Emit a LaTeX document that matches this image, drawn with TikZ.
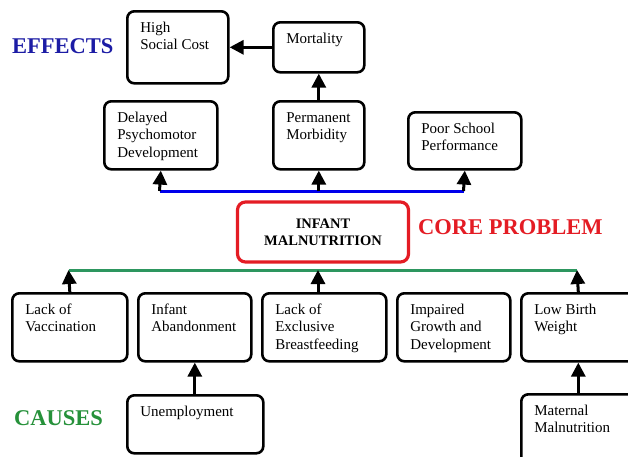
\documentclass[tikz,border=0pt]{standalone}
\usepackage{fontspec}
\setmainfont{Liberation Serif}
\usetikzlibrary{arrows.meta}
\definecolor{effblue}{RGB}{28,28,165}
\definecolor{lineblue}{RGB}{0,0,235}
\definecolor{corered}{RGB}{228,28,36}
\definecolor{causegreen}{RGB}{38,145,58}
\definecolor{linegreen}{RGB}{45,150,95}
\tikzset{
  cbox/.style={draw=black, line width=2.6pt, rounded corners=7pt, anchor=north west, inner sep=0pt, fill=white},
  arr/.style={line width=3pt, -{Triangle[width=14pt,length=14pt]}},
  bline/.style={draw=lineblue, line width=3pt},
  gline/.style={draw=linegreen, line width=3pt},
  head/.style={font=\fontsize{22.5}{27}\selectfont\bfseries, inner sep=0pt, anchor=base west},
  corebox/.style={draw=corered, line width=3.2pt, rounded corners=8pt, minimum width=171pt, minimum height=60pt, align=center, inner sep=0pt, font=\fontsize{14.5}{17}\selectfont\bfseries}
}
\newcommand\cbx[6]{\node[cbox] (#1) at (#2,#3) {\parbox[t][#5pt][t]{#4pt}{\raggedright\leftskip=13pt\fontsize{15}{17.5}\selectfont\rule{0pt}{21pt}#6}};}
\begin{document}
\begin{tikzpicture}[x=1pt,y=-1pt]
\useasboundingbox (0,0) rectangle (628,456);
\fill[white] (0,0) rectangle (628,456);
\clip (0,0) rectangle (628,456);
% effects
\node[head, text=effblue] (eff) at (12,53) {EFFECTS};
\cbx{hsc}{126}{10}{101}{72}{High\\Social Cost}
\cbx{mo}{272}{21}{91}{50}{Mortality}
\cbx{dp}{103}{100}{113}{68}{Delayed\\Psychomotor\\Development}
\cbx{pm}{272}{100}{91}{68}{Permanent\\Morbidity}
\cbx{ps}{407}{111}{113}{57}{Poor School\\Performance}
% core
\node[corebox] (im) at (323,232) {INFANT\\MALNUTRITION};
\node[head, text=corered] (core) at (418,234) {CORE PROBLEM};
% causes
\cbx{lv}{11}{292}{115}{68}{Lack of\\Vaccination}
\cbx{ia}{137}{292}{113}{68}{Infant\\Abandonment}
\cbx{le}{261}{292}{124}{68}{Lack of\\Exclusive\\Breastfeeding}
\cbx{ig}{396}{292}{113}{68}{Impaired\\Growth and\\Development}
\cbx{lb}{520}{292}{114}{68}{Low Birth\\Weight}
\cbx{un}{126}{394}{136}{58}{Unemployment}
\cbx{mm}{520}{393}{114}{80}{Maternal\\Malnutrition}
\node[head, text=causegreen] (cau) at (14,425) {CAUSES};
% connectors
\coordinate (bL) at (159.5,191);
\coordinate (bR) at (463.5,191);
\coordinate (gL) at (68.5,270);
\coordinate (gM) at (318,270);
\coordinate (gR) at (577,270);
\draw[bline] (bL) -- (bR);
\draw[gline] (gL) -- (gR);
\draw[arr] (mo.west) -- (hsc.east);
\draw[arr] (pm.north) -- (mo.south);
\draw[arr] (bL) -- (dp.south);
\draw[arr] (pm.south |- bL) -- (pm.south);
\draw[arr] (bR) -- (ps.south);
\draw[arr] (lv.north) -- (gL);
\draw[arr] (gM |- le.north) -- (gM);
\draw[arr] (lb.north) -- (gR);
\draw[arr] (ia.south |- un.north) -- (ia.south);
\draw[arr] (mm.north) -- (lb.south);
\end{tikzpicture}
\end{document}
